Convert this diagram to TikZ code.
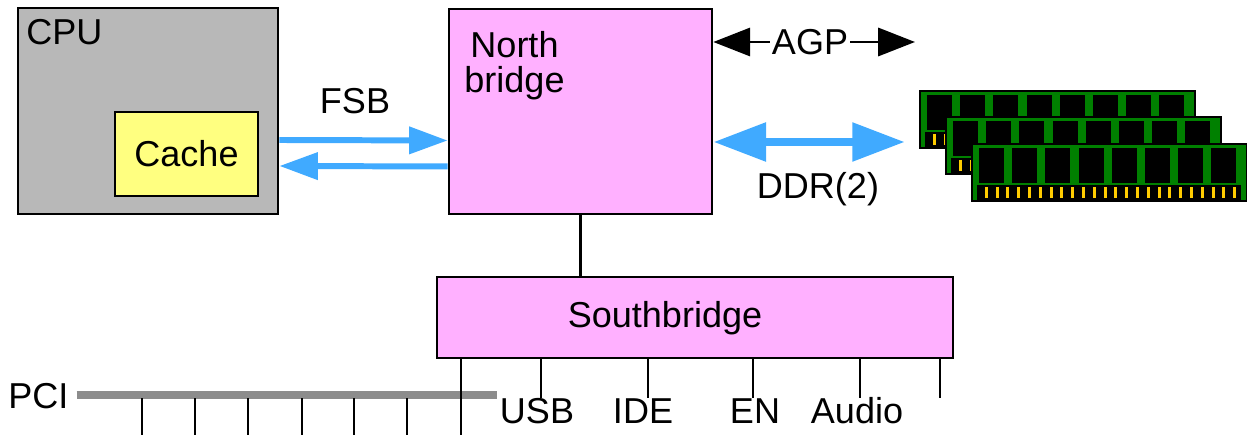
\documentclass[tikz,border=0pt]{standalone}
\usepackage{fontspec}
\setmainfont{Liberation Sans}
\usetikzlibrary{arrows.meta, positioning}
\definecolor{cpuGray}{RGB}{184,184,184}
\definecolor{cacheYellow}{RGB}{255,255,128}
\definecolor{bridgePink}{RGB}{255,176,255}
\definecolor{busBlue}{RGB}{64,170,255}
\definecolor{pciGray}{RGB}{140,140,140}
\definecolor{ramGreen}{RGB}{0,128,0}
\definecolor{pinGold}{RGB}{255,204,0}

\begin{document}
\begin{tikzpicture}[x=0.02cm, y=-0.02cm,
    box/.style={draw=black, line width=1.5pt, inner sep=0pt},
    lbl/.style={font=\fontsize{20.5}{19.8}\selectfont, inner sep=0pt},
    fsb/.style={draw=busBlue, line width=3.4pt, -{Triangle[length=22pt,width=15pt]}},
    ddr/.style={draw=busBlue, line width=5.1pt, {Triangle[length=30pt,width=21pt]}-{Triangle[length=30pt,width=21pt]}},
    agp/.style={line width=1.7pt, -{Triangle[length=21pt,width=16pt]}},
    pcibus/.style={draw=pciGray, line width=5.1pt, shorten <=4.5pt},
    stub/.style={line width=1.4pt},
    ramboard/.style={draw=black, fill=ramGreen, line width=1.1pt}
  ]
  \useasboundingbox (0,0) rectangle (1247,435);

  % cpu with its cache
  \node[box, fill=cpuGray, minimum width=5.2cm, minimum height=4.12cm] (cpu) at (148,111) {};
  \node[lbl, anchor=base west] (cpulbl) at (26,45) {CPU};
  \node[box, lbl, fill=cacheYellow, minimum width=2.86cm, minimum height=1.68cm] (cache) at (186.5,154) {Cache};

  % the two bridges
  \node[box, fill=bridgePink, minimum width=5.26cm, minimum height=4.1cm] (north) at (580.5,111.5) {};
  \node[lbl, align=center, anchor=north] (northlbl) at (514.5,31) {North\\bridge};
  \node[box, fill=bridgePink, minimum width=10.32cm, minimum height=1.62cm] (south) at (695,317.5) {};
  \node[lbl, anchor=base] (southlbl) at (665,328) {Southbridge};
  \draw[line width=1.5pt] (north.south) -- (north.south |- south.north);

  % front side bus
  \node[lbl, anchor=base] (fsblbl) at (355,114) {FSB};
  \draw[fsb] ([yshift=-0.58cm]cpu.east) -- ([yshift=-0.58cm]north.west);
  \draw[fsb] ([yshift=-1.1cm]north.west) -- ([yshift=-1.1cm]cpu.east);

  % agp
  \node[lbl, inner sep=1pt] (agplbl) at (810,42) {AGP};
  \coordinate (agpend) at (915,42);
  \draw[agp] (agplbl.west) -- (north.east |- agplbl);
  \draw[agp] (agplbl.east) -- (agpend);

  % memory bus
  \coordinate (ddrend) at (905,142);
  \draw[ddr] (north.east |- ddrend) -- (ddrend);
  \node[lbl, anchor=base] (ddrlbl) at (818,199) {DDR(2)};

  % memory sticks
  \foreach \sx/\sy in {920/91, 946/117, 972/144} {
    \begin{scope}[shift={(\sx,\sy)}]
      \draw[ramboard] (0,0) rectangle (275,57);
      \foreach \k in {0,...,7}
        \fill (7+33.2*\k,4) rectangle ++(25,35);
      \fill (5,41) rectangle (269,57);
      \foreach \k in {0,...,23}
        \fill[pinGold] (12.7+10.8*\k,43) rectangle ++(3,11);
    \end{scope}
  }

  % pci bus
  \node[lbl, anchor=base west] (pci) at (8,408) {PCI};
  \coordinate (pciend) at (497,395);
  \draw[pcibus] (pci.east |- pciend) -- (pciend);
  \foreach \x in {142,195,248,302,354,407,461}
    \draw[stub] (\x,398) -- (\x,435);

  % southbridge ports
  \foreach \dx in {0.51,2.11,4.25,6.35,8.49,10.09}
    \draw[stub] ([xshift=\dx cm]south.south west) -- ++(0,39);
  \node[lbl, anchor=base] (usb) at (537,423) {USB};
  \node[lbl, anchor=base] (ide) at (643,423) {IDE};
  \node[lbl, anchor=base] (en) at (755,423) {EN};
  \node[lbl, anchor=base] (audio) at (857,423) {Audio};
\end{tikzpicture}
\end{document}
